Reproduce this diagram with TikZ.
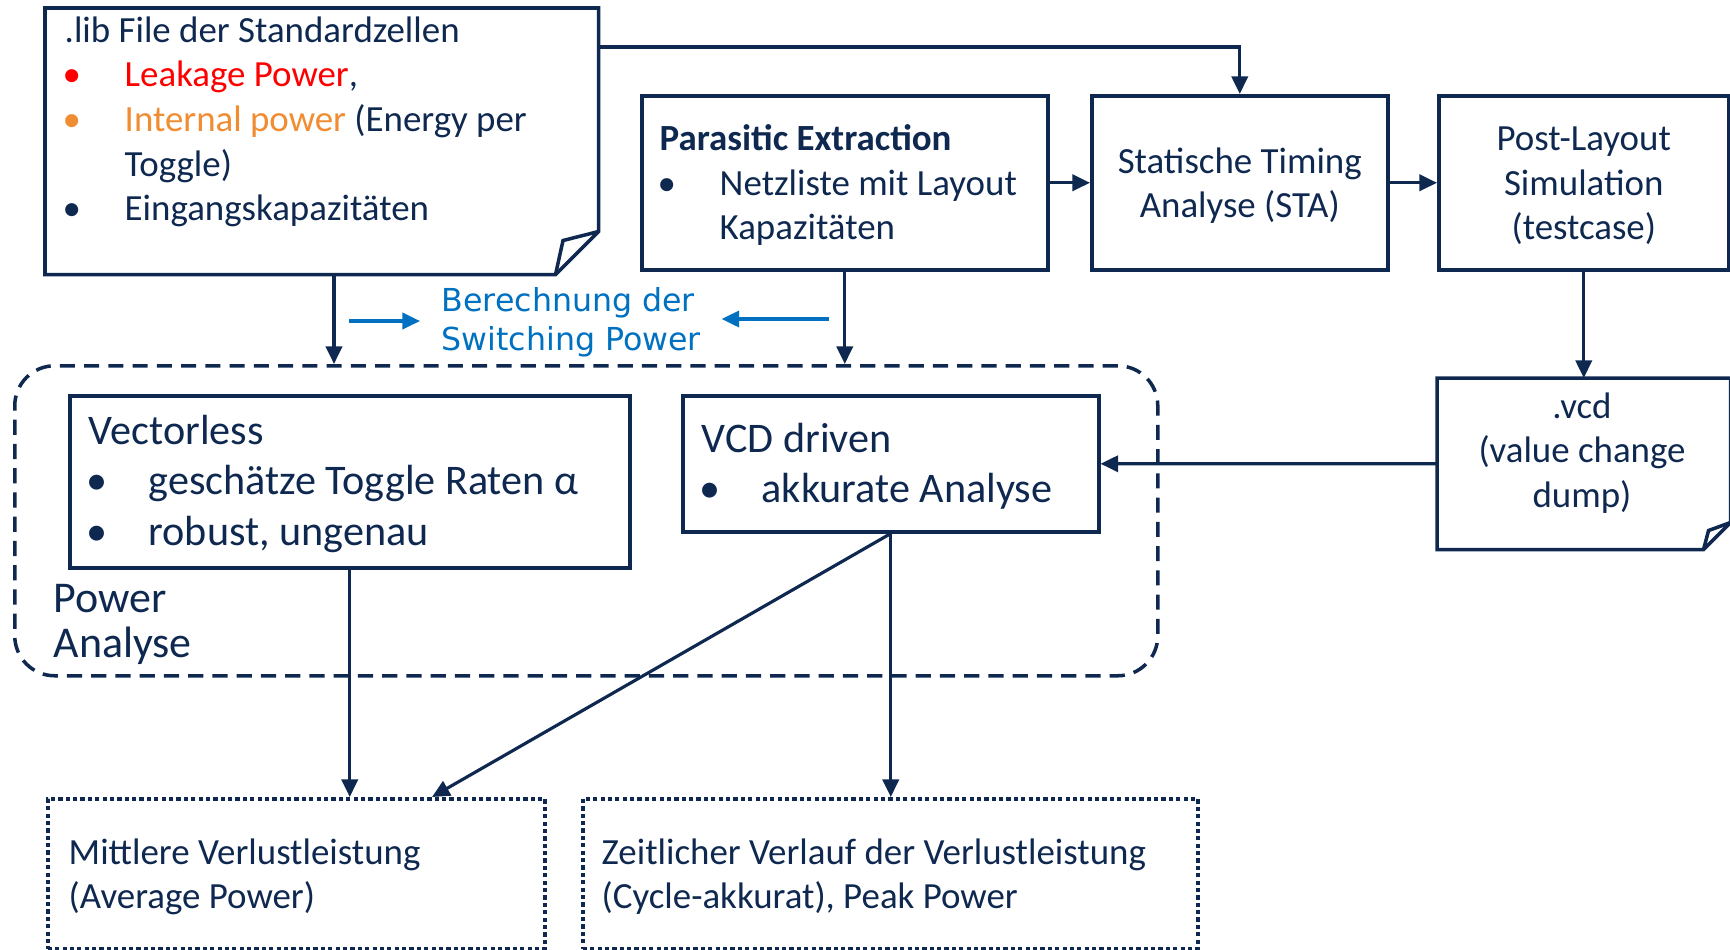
\documentclass[tikz,border=0pt]{standalone}
\usepackage{fontspec}
\setmainfont{Carlito}
\newfontfamily\verdfont{DejaVu Sans}
\usepackage{xcolor}
\usetikzlibrary{positioning,arrows.meta,calc}
\definecolor{navy}{RGB}{14,40,80}
\definecolor{lkred}{RGB}{255,0,0}
\definecolor{intorange}{RGB}{240,140,50}
\definecolor{swblue}{RGB}{0,112,192}
\newcommand{\bul}[1][navy]{\makebox[0.60cm][l]{\hspace{-0.02cm}\textcolor{#1}{\textbullet}}}
\tikzset{
  box/.style={draw=navy, line width=1pt, anchor=north west, inner sep=0pt},
  txt/.style={text=navy, anchor=north west, inner sep=0pt, align=left, font=\fontsize{10.5}{12.7}\selectfont},
  bigtxt/.style={txt, font=\fontsize{12}{14.5}\selectfont},
  arr/.style={draw=navy, line width=0.9pt, -{Triangle[length=5pt,width=4.6pt]}},
  barr/.style={draw=swblue, line width=0.9pt, -{Triangle[length=5pt,width=4.6pt]}},
  group/.style={draw=navy, line width=1pt, dash pattern=on 4.3pt off 2.6pt, rounded corners=0.4cm, anchor=north west, inner sep=0pt},
  result/.style={draw=navy, line width=1pt, dash pattern=on 1.2pt off 0.9pt, anchor=north west, inner sep=0pt},
}

\begin{document}
\begin{tikzpicture}
\useasboundingbox (0,0) rectangle (17.30,-9.49);

% top row
\node[box, draw=none, minimum width=5.50cm, minimum height=2.63cm] (lib) at (0.45,-0.08) {};
\draw[navy, line width=1pt] (lib.north west) -- (lib.north east) -- ($(lib.south east)+(0,0.43)$)
  -- ($(lib.south east)+(-0.43,0)$) -- (lib.south west) -- cycle;
\draw[navy, line width=1pt] ($(lib.south east)+(-0.43,0)$) -- ($(lib.south east)+(-0.355,0.34)$) -- ($(lib.south east)+(0,0.43)$);
\node[txt] (libtxt) at (0.64,-0.16) {.lib File der Standardzellen\\
  \bul[lkred]\textcolor{lkred}{Leakage Power},\\
  \bul[intorange]\textcolor{intorange}{Internal power} (Energy per\\
  \hspace*{0.60cm}Toggle)\\
  \bul Eingangskapazitäten};

\node[box, minimum width=4.06cm, minimum height=1.74cm] (par) at (6.40,-0.94) {};
\node[txt] (partxt) at (6.59,-1.24) {\textbf{Parasitic Extraction}\\
  \bul Netzliste mit Layout\\
  \hspace*{0.60cm}Kapazitäten};

\node[box, minimum width=2.96cm, minimum height=1.74cm] (sta) at (10.90,-0.94) {};
\node[txt, anchor=center, align=center] (statxt) at ([yshift=-0.03cm]sta.center) {Statische Timing\\Analyse (STA)};
\node[box, minimum width=2.90cm, minimum height=1.74cm] (post) at (14.37,-0.94) {};
\node[txt, anchor=center, align=center] (posttxt) at ([yshift=-0.03cm]post.center) {Post-Layout\\Simulation\\(testcase)};

% vcd file
\node[box, draw=none, minimum width=2.90cm, minimum height=1.68cm] (vcd) at (14.37,-3.78) {};
\draw[navy, line width=1pt] (vcd.north west) -- (vcd.north east) -- ($(vcd.south east)+(0,0.27)$)
  -- ($(vcd.south east)+(-0.27,0)$) -- (vcd.south west) -- cycle;
\draw[navy, line width=1pt] ($(vcd.south east)+(-0.27,0)$) -- ($(vcd.south east)+(-0.22,0.19)$) -- ($(vcd.south east)+(0,0.27)$);
\node[txt, anchor=center, align=center] (vcdtxt) at (15.82,-4.53) {.vcd\\(value change\\dump)};

% power analysis
\node[group, minimum width=11.43cm, minimum height=3.10cm] (grp) at (0.13,-3.64) {};
\node[box, minimum width=5.60cm, minimum height=1.72cm] (vec) at (0.68,-3.94) {};
\node[bigtxt] (vectxt) at (0.88,-4.14) {Vectorless\\
  \bul geschätze Toggle Raten α\\
  \bul robust, ungenau};
\node[box, minimum width=4.16cm, minimum height=1.36cm] (vcdd) at (6.81,-3.94) {};
\node[bigtxt] (vcddtxt) at (7.01,-4.22) {VCD driven\\
  \bul akkurate Analyse};
\node[txt, font=\fontsize{12.5}{12.8}\selectfont] (pwr) at (0.53,-5.84) {Power\\Analyse};

% results
\node[result, minimum width=4.97cm, minimum height=1.50cm] (avg) at (0.46,-7.97) {};
\node[txt] (avgtxt) at (0.68,-8.38) {Mittlere Verlustleistung\\(Average Power)};
\node[result, minimum width=6.15cm, minimum height=1.50cm] (peak) at (5.81,-7.97) {};
\node[txt] (peaktxt) at (6.01,-8.38) {Zeitlicher Verlauf der Verlustleistung\\(Cycle-akkurat), Peak Power};

% switching power label
\node[anchor=north west, inner sep=0pt, align=left, text=swblue,
  font=\verdfont\fontsize{9}{10.9}\selectfont] (sw) at (4.41,-2.87) {Berechnung der\\Switching Power};

\coordinate (libx) at (3.34,0);
\coordinate (diagx) at (4.32,0);
\coordinate (bl1) at (3.49,-3.21);
\coordinate (br1) at (8.29,-3.19);

% connectors
\draw[arr] ($(lib.north east)+(0,-0.39)$) -| (sta.north);
\draw[arr] (par.east) -- (sta.west);
\draw[arr] (sta.east) -- (post.west);
\draw[arr] (post.south) -- (vcd.north);
\draw[arr] (vcd.west) -- (vcdd.east);
\draw[arr] (lib.south -| libx) -- (grp.north -| libx);
\draw[arr] (par.south) -- (grp.north -| par.south);
\draw[arr] (vec.south) -- (avg.north -| vec.south);
\draw[arr] (vcdd.south) -- (peak.north -| vcdd.south);
\draw[arr] (vcdd.south) -- (avg.north -| diagx);
\draw[barr] (bl1) -- ($(bl1 -| sw.west)+(-0.21,0)$);
\draw[barr] (br1) -- ($(br1 -| sw.east)+(0.20,0)$);
\end{tikzpicture}
\end{document}
